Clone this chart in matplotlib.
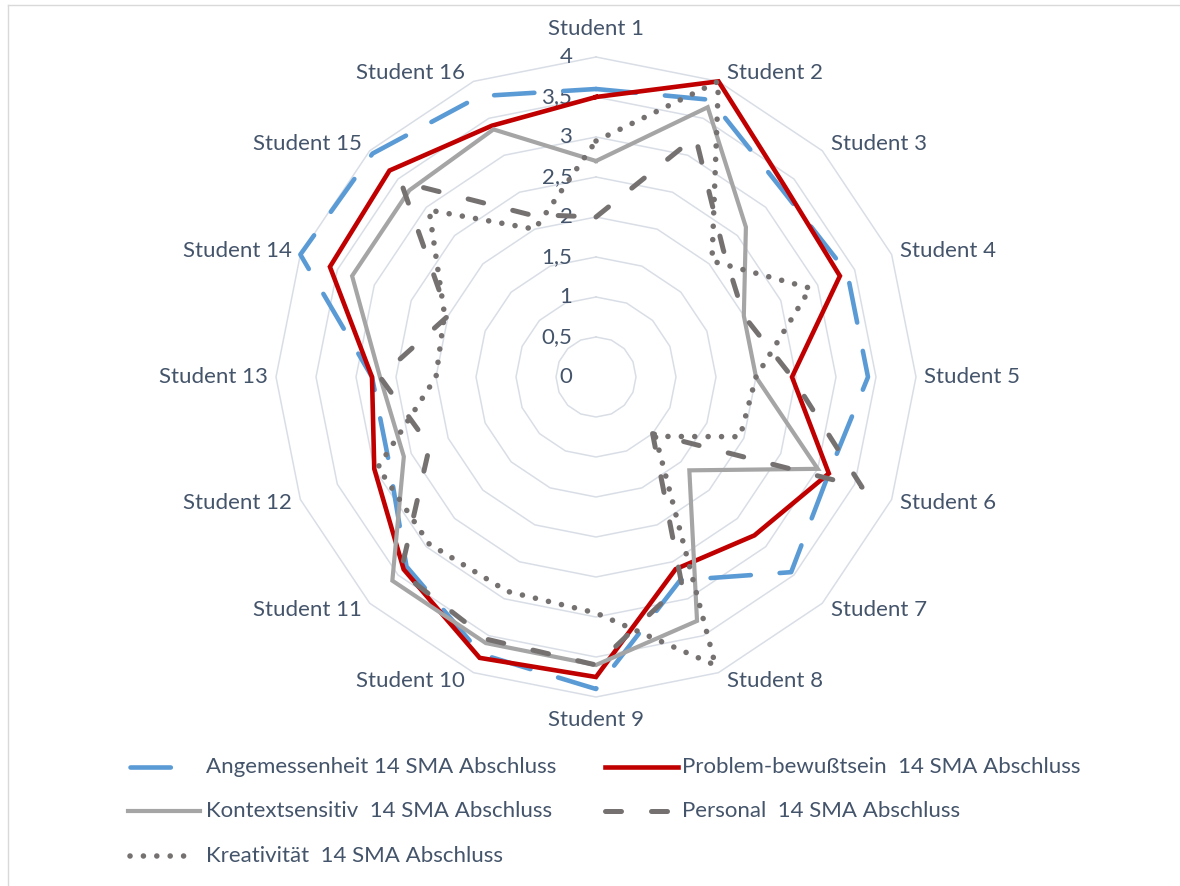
import matplotlib
matplotlib.use("Agg")
import matplotlib.pyplot as plt
import numpy as np
from matplotlib.lines import Line2D

plt.rcParams["font.family"] = ["Lato", "DejaVu Sans"]

W, H = 1180, 886
TEXT = "#44546A"
GRID = "#D9DEE6"
FS = 16

students = [f"Student {i}" for i in range(1, 17)]
ring_values = [0, 0.5, 1, 1.5, 2, 2.5, 3, 3.5, 4]
ring_labels = ["0", "0,5", "1", "1,5", "2", "2,5", "3", "3,5", "4"]

angemessenheit = [3.6, 3.75, 3.3, 3.4, 3.4, 3.15, 3.45, 2.75, 3.9, 3.75, 3.35, 2.8, 2.8, 4.0, 3.95, 3.8]
problem = [3.5, 4.0, 3.35, 3.3, 2.45, 3.15, 2.8, 2.6, 3.75, 3.8, 3.4, 3.0, 2.8, 3.6, 3.65, 3.4]
kontext = [2.7, 3.65, 2.65, 2.0, 2.0, 3.0, 1.65, 3.3, 3.6, 3.6, 3.6, 2.6, 2.7, 3.3, 3.3, 3.35]
personal = [2.0, 3.25, 2.25, 2.0, 2.45, 3.6, 1.0, 2.8, 3.6, 3.55, 3.45, 2.25, 2.7, 2.0, 3.45, 2.2]
kreativitaet = [2.95, 4.0, 2.05, 2.9, 2.0, 1.95, 1.05, 3.9, 2.95, 2.9, 2.95, 2.95, 2.0, 2.05, 2.95, 2.0]

series_labels = [
    "Angemessenheit 14 SMA Abschluss",
    "Problem-bewußtsein  14 SMA Abschluss",
    "Kontextsensitiv  14 SMA Abschluss",
    "Personal  14 SMA Abschluss",
    "Kreativität  14 SMA Abschluss",
]

styles = [
    dict(color="#5B9BD5", lw=3.3, dashes=(8.8, 6.3), dash_capstyle="round"),
    dict(color="#C00000", lw=3.3, solid_joinstyle="miter"),
    dict(color="#A5A5A5", lw=3.0, solid_joinstyle="miter"),
    dict(color="#767171", lw=3.6, dashes=(3.2, 6.0), dash_capstyle="round"),
    dict(color="#767171", lw=4.0, dashes=(0.01, 2.4), dash_capstyle="round"),
]


def fx(px):
    return px / W


def fy(py):
    return 1 - py / H


fig = plt.figure(figsize=(W / 100, H / 100), dpi=100)
fig.patch.set_facecolor("white")

# chart frame (top and left edges)
fig.add_artist(Line2D([fx(8), fx(W)], [fy(5), fy(5)], color="#D9D9D9", lw=1))
fig.add_artist(Line2D([fx(8), fx(8)], [fy(5), fy(H)], color="#D9D9D9", lw=1))

cx, cy, R = 596, 377, 320
ax = fig.add_axes([fx(cx - R), fy(cy + R), 2 * R / W, 2 * R / H], projection="polar")
ax.set_theta_zero_location("N")
ax.set_theta_direction(-1)
ax.set_ylim(0, 4)
ax.set_axis_off()

angles = np.deg2rad(np.arange(len(students)) * 360 / len(students))
closed = np.append(angles, angles[0])

# polygonal rings
for v in ring_values[1:]:
    ax.plot(closed, [v] * len(closed), color=GRID, lw=1.1, clip_on=False, zorder=1)

# value labels along the first spoke
for v, lab in zip(ring_values, ring_labels):
    ax.annotate(lab, xy=(0, v), xytext=(-17, 0), textcoords="offset points",
                ha="right", va="center", fontsize=FS, color=TEXT, zorder=2)

# category labels
for a, name in zip(angles, students):
    s, c = np.sin(a), np.cos(a)
    if abs(s) < 0.1:
        ha = "center"
        dx = 0
        dy = 20 if c > 0 else -16.5
    else:
        ha = "left" if s > 0 else "right"
        dx = 6 * np.sign(s)
        dy = 6.5 * c
    ax.annotate(name, xy=(a, 4), xytext=(dx, dy), textcoords="offset points",
                ha=ha, va="center", fontsize=FS, color=TEXT)

all_series = [angemessenheit, problem, kontext, personal, kreativitaet]
for vals, st in zip(all_series, styles):
    ax.plot(closed, np.append(vals, vals[0]), clip_on=False, zorder=3, **st)

# legend drawn in two columns
legend_pos = [(130, 178, 206, 767), (605, 678, 682, 767),
              (128, 200, 206, 811), (605, 678, 682, 811),
              (130, 186, 206, 856)]
for (x0, x1, xt, yy), lab, st in zip(legend_pos, series_labels, styles):
    fig.add_artist(Line2D([fx(x0), fx(x1)], [fy(yy), fy(yy)], **st))
    fig.text(fx(xt), fy(yy), lab, ha="left", va="center", fontsize=FS, color=TEXT)

fig.savefig("out.png", dpi=100, facecolor="white")
